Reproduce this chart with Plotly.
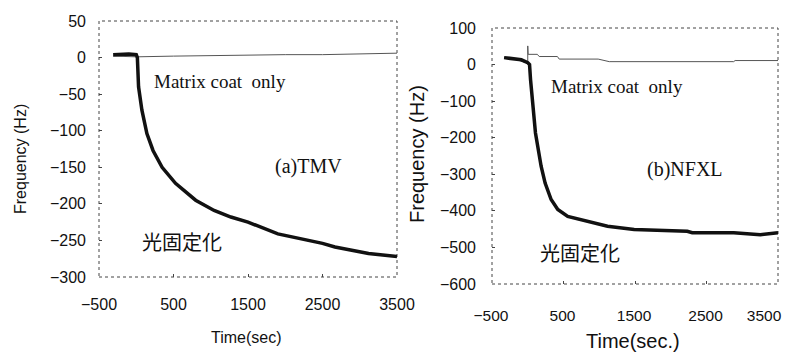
import plotly.graph_objects as go

# page body has an 8px margin; the figure is placed so that the page matches the reference pixels
OFF = 8
W, H = 794 - OFF, 360 - 2 * OFF

# ---- data (a) TMV ----
t_a_fix = [-310, -200, -100, 0, 15, 31, 76, 143, 225, 347, 527, 797, 1045, 1270, 1500, 1901, 2500, 2667, 3118, 3500]
f_a_fix = [4, 5, 5, 4, 0, -40, -72, -104, -127, -150, -172, -195, -209, -218, -225, -241, -254, -259, -268, -272]
t_a_mat = [-310, 0, 500, 1000, 1500, 2000, 2500, 3000, 3500]
f_a_mat = [2, 1, 2, 3, 3, 4, 4, 5, 6]

# ---- data (b) NFXL ----
t_b_fix = [-331, -200, -90, 0, 25, 39, 62, 108, 187, 243, 327, 420, 559, 838, 1116, 1488, 2231, 2300, 2881, 3253, 3500]
f_b_fix = [19, 17, 13, 5, 0, -41, -96, -187, -278, -324, -369, -396, -415, -428, -442, -451, -456, -460, -460, -465, -460]
t_b_mat = [-331, -150, 0, 0, 5, 134, 160, 415, 440, 985, 1140, 2880, 2900, 3500]
f_b_mat = [19, 13, 4, 51, 28, 28, 22, 22, 15, 15, 8, 8, 11, 11]

x_ticks = [-500, 500, 1500, 2500, 3500]
y_ticks_a = [50, 0, -50, -100, -150, -200, -250, -300]
y_ticks_b = [100, 0, -100, -200, -300, -400, -500, -600]

def px(x):
    return (x - OFF) / W

def py(y):
    return 1 - (y - OFF) / H

def lab(vals):
    return [str(v).replace("-", "\u2212") for v in vals]

# right panel: last label padded on its right so the visible text sits inside the page edge
x2_text = lab(x_ticks)
x2_text[-1] = x2_text[-1] + "\u00a0" * 6

fig = go.Figure()
fig.add_trace(go.Scatter(x=t_a_mat, y=f_a_mat, mode="lines", line=dict(color="#555", width=1),
                         xaxis="x", yaxis="y", showlegend=False))
fig.add_trace(go.Scatter(x=t_a_fix, y=f_a_fix, mode="lines", line=dict(color="#111", width=3.5),
                         xaxis="x", yaxis="y", showlegend=False))
fig.add_trace(go.Scatter(x=t_b_mat, y=f_b_mat, mode="lines", line=dict(color="#555", width=1),
                         xaxis="x2", yaxis="y2", showlegend=False))
fig.add_trace(go.Scatter(x=t_b_fix, y=f_b_fix, mode="lines", line=dict(color="#111", width=3.5),
                         xaxis="x2", yaxis="y2", showlegend=False))

tickfont = dict(family="Liberation Sans, Arial, sans-serif", size=16, color="#111")
common_x = dict(range=[-500, 3500], tickvals=x_ticks, ticks="inside", ticklen=3,
                tickcolor="#444", showgrid=False, zeroline=False, showline=False,
                automargin=False, ticklabeloverflow="allow")
common_y = dict(ticks="inside", ticklen=3, tickcolor="#444", showgrid=False, zeroline=False,
                showline=False, tickfont=tickfont, automargin=False)

fig.update_layout(
    width=W, height=H,
    margin=dict(l=0, r=0, t=0, b=0, autoexpand=False),
    paper_bgcolor="white", plot_bgcolor="white",
    xaxis=dict(domain=[px(99), px(397)], anchor="y", ticklabelstandoff=16, tickfont=tickfont,
               ticktext=lab(x_ticks), **common_x),
    yaxis=dict(domain=[py(277), py(21)], anchor="x", range=[-300, 50], tickvals=y_ticks_a,
               ticktext=lab(y_ticks_a), ticklabelstandoff=12, **common_y),
    xaxis2=dict(domain=[px(492), px(778)], anchor="y2", ticklabelstandoff=20, ticklabelshift=-1,
                tickfont=dict(tickfont, size=15.5), ticktext=x2_text, **common_x),
    yaxis2=dict(domain=[py(284), py(28)], anchor="x2", range=[-600, 100], tickvals=y_ticks_b,
                ticktext=lab(y_ticks_b), ticklabelstandoff=15, **common_y),
)

# dotted frames
for xr, yr in (("x", "y"), ("x2", "y2")):
    fig.add_shape(type="rect", xref=f"{xr} domain", yref=f"{yr} domain", x0=0, x1=1, y0=0, y1=1,
                  line=dict(color="#444", width=1, dash="dot"), fillcolor="rgba(0,0,0,0)", layer="below")

serif = "Liberation Serif, Times New Roman, serif"
cjk = "Noto Sans CJK JP"
sans = "Liberation Sans, Arial, sans-serif"

def ann(text, x, y, family, size, angle=0):
    fig.add_annotation(text=text, x=px(x), y=py(y), xref="paper", yref="paper", showarrow=False,
                       xanchor="center", yanchor="middle", textangle=angle,
                       font=dict(family=family, size=size, color="#111"))

ann("Matrix coat\u00a0\u00a0only", 220, 82, serif, 19)
ann("(a)TMV", 308, 167, serif, 20)
ann("光固定化", 182, 241, cjk, 20)
ann("Matrix coat\u00a0\u00a0only", 617, 87, serif, 19)
ann("(b)NFXL", 685, 170, serif, 20)
ann("光固定化", 580, 252, cjk, 20)

ann("Frequency (Hz)", 20, 159, sans, 16, -90)
ann("Frequency (Hz)", 417, 154, sans, 20, -90)
ann("Time(sec)", 246, 337, sans, 16)
ann("Time(sec.)", 633, 341, sans, 20)

fig.write_html("out.html")
